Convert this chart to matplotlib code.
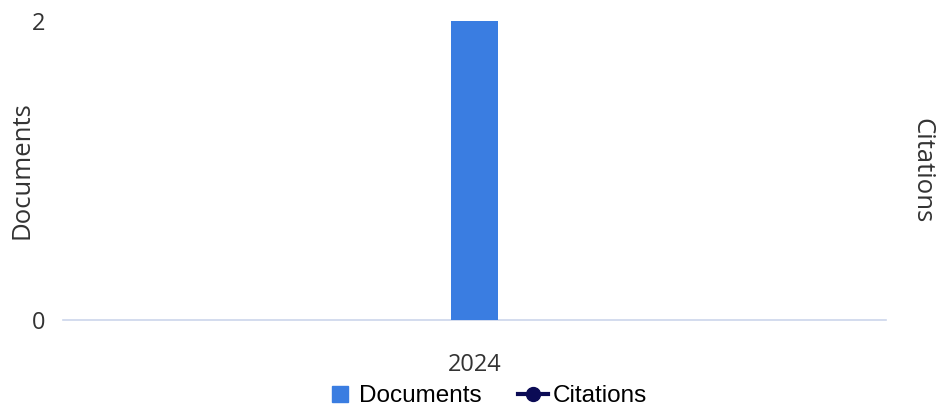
import matplotlib
matplotlib.use("Agg")
import matplotlib.pyplot as plt
from matplotlib.lines import Line2D

years = ["2024"]
documents = [2]
citations = []

bar_color = "#3a7de1"
line_color = "#0b0b55"

fig = plt.figure(figsize=(9.4, 4.12), dpi=100)
ax = fig.add_axes([63 / 940, 1 - 320 / 412, 823 / 940, 299 / 412])

x = list(range(len(years)))
ax.bar(x, documents, width=0.056, color=bar_color, zorder=3)
ax.set_xlim(-0.5, 0.5)
ax.set_ylim(0, 2)
ax.set_yticks([0, 2])
ax.set_xticks(x)
ax.set_xticklabels(years)

for s in ["top", "right", "left"]:
    ax.spines[s].set_visible(False)
ax.spines["bottom"].set_color("#ccd6eb")
ax.spines["bottom"].set_linewidth(1.2)
ax.tick_params(axis="both", length=0, labelsize=17, labelcolor="#333333")
ax.tick_params(axis="y", pad=13)
ax.tick_params(axis="x", pad=23.5)
for lab in ax.get_xticklabels() + ax.get_yticklabels():
    lab.set_fontfamily("Open Sans")

ax.set_ylabel("Documents", fontsize=18.5, family="Open Sans", color="#333333", labelpad=-2)

ax2 = ax.twinx()
ax2.plot(x[:len(citations)], citations, color=line_color, marker="o")
ax2.set_yticks([])
for s in ax2.spines.values():
    s.set_visible(False)
ax2.set_ylabel("Citations", fontsize=18.5, family="Open Sans", color="#333333",
               rotation=270, labelpad=35)

handles = [
    Line2D([], [], marker="s", linestyle="none", color=bar_color, markersize=11),
    Line2D([], [], marker="o", color=line_color, markersize=10, linewidth=3),
]
fig.legend(handles, ["Documents", "Citations"], loc="center", bbox_to_anchor=(486 / 940, 1 - 396 / 412),
           ncol=2, frameon=False, prop={"family": "Liberation Sans", "size": 17.5},
           handlelength=1.2, handletextpad=0.2, columnspacing=1.5)

fig.savefig("out.png", dpi=100)
